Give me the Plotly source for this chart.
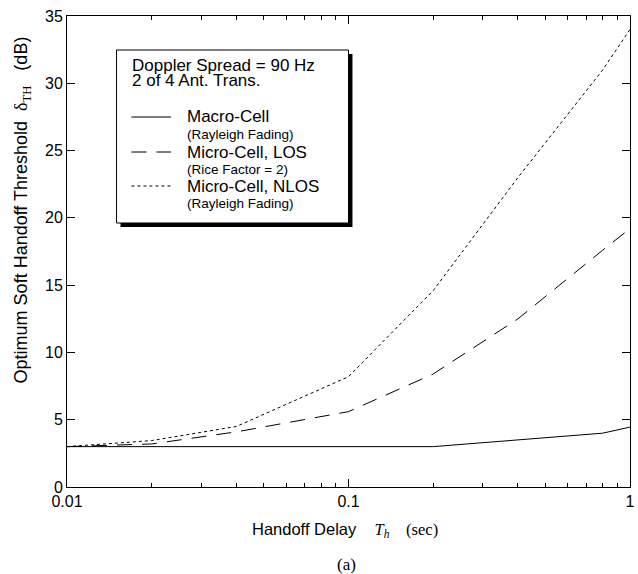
import plotly.graph_objects as go

# ---- data ----
delay = [0.01, 0.02, 0.04, 0.1, 0.2, 0.4, 0.8, 1.0]
macro = [3.0, 3.0, 3.0, 3.0, 3.0, 3.5, 4.0, 4.45]
micro_los = [3.0, 3.2, 4.1, 5.6, 8.4, 12.5, 17.6, 19.2]
micro_nlos = [3.0, 3.45, 4.5, 8.2, 14.6, 23.0, 31.0, 34.0]

x_ticks = [0.01, 0.1, 1]
x_ticktext = ["0.01", "0.1", "1"]
x_minor = [0.02, 0.03, 0.04, 0.05, 0.06, 0.07, 0.08, 0.09,
           0.2, 0.3, 0.4, 0.5, 0.6, 0.7, 0.8, 0.9]
y_ticks = [0, 5, 10, 15, 20, 25, 30, 35]

W, H = 638, 574
L, R, T, B = 67, 635, 16, 487  # plot area in pixels


def px(xp):
    return (xp - L) / (R - L)


def py(yp):
    return (B - yp) / (B - T)


SANS = "Liberation Sans, Arial, sans-serif"
SERIF = "Liberation Serif, Times New Roman, serif"

fig = go.Figure()
fig.add_trace(go.Scatter(x=delay, y=macro, mode="lines", name="Macro-Cell",
                         line=dict(color="black", width=1, dash="solid")))
fig.add_trace(go.Scatter(x=delay, y=micro_los, mode="lines", name="Micro-Cell, LOS",
                         line=dict(color="black", width=1, dash="15px,10px")))
fig.add_trace(go.Scatter(x=delay, y=micro_nlos, mode="lines", name="Micro-Cell, NLOS",
                         line=dict(color="black", width=1, dash="3px,3px")))

fig.update_layout(
    width=W, height=H,
    margin=dict(l=L, r=W - R, t=T, b=H - B),
    paper_bgcolor="white", plot_bgcolor="white",
    showlegend=False,
    font=dict(family=SANS, size=16, color="black"),
)
fig.update_xaxes(
    type="log", range=[-2, 0],
    tickmode="array", tickvals=x_ticks, ticktext=x_ticktext,
    ticks="inside", ticklen=8, tickwidth=1, tickcolor="black",
    ticklabeloverflow="allow",
    minor=dict(tickmode="array", tickvals=x_minor, ticks="inside",
               ticklen=4, tickwidth=1, tickcolor="black", showgrid=False),
    showline=True, linecolor="black", linewidth=1, mirror="allticks",
    showgrid=False, zeroline=False,
    tickfont=dict(family=SANS, size=16, color="black"),
)
fig.update_yaxes(
    range=[0, 35], tickmode="array", tickvals=y_ticks,
    ticks="inside", ticklen=8, tickwidth=1, tickcolor="black",
    ticklabeloverflow="allow",
    showline=True, linecolor="black", linewidth=1, mirror="allticks",
    showgrid=False, zeroline=False,
    tickfont=dict(family=SANS, size=16, color="black"),
)

ann = []
# axis titles
ann.append(dict(
    text="Handoff Delay    <span style='font-family:Liberation Serif'><i>T<sub>h</sub></i>    (sec)</span>",
    x=px(347), y=py(530), xref="paper", yref="paper", showarrow=False,
    xanchor="center", yanchor="middle", font=dict(family=SANS, size=16.5)))
ann.append(dict(
    text="Optimum Soft Handoff Threshold  <span style='font-family:Liberation Serif'>δ<sub>TH</sub></span>   (dB)",
    x=px(22), y=py(210), xref="paper", yref="paper", showarrow=False,
    textangle=-90, xanchor="center", yanchor="middle",
    font=dict(family=SANS, size=18)))
ann.append(dict(
    text="(a)", x=px(349), y=py(564), xref="paper", yref="paper", showarrow=False,
    xanchor="center", yanchor="middle", font=dict(family=SERIF, size=17)))

# legend box with drop shadow
shapes = []
shapes.append(dict(type="rect", xref="paper", yref="paper",
                   x0=px(121), x1=px(355), y0=py(227), y1=py(54),
                   fillcolor="black", line=dict(width=0)))
shapes.append(dict(type="rect", xref="paper", yref="paper",
                   x0=px(117), x1=px(351), y0=py(223), y1=py(50),
                   fillcolor="white", line=dict(color="black", width=1)))

for txt, yy in [("Doppler Spread = 90 Hz", 66), ("2 of 4 Ant. Trans.", 81)]:
    ann.append(dict(text=txt, x=px(131), y=py(yy), xref="paper", yref="paper",
                    showarrow=False, xanchor="left", yanchor="middle", align="left",
                    font=dict(family=SANS, size=17)))

items = [
    ("Macro-Cell", "(Rayleigh Fading)", "solid", 117),
    ("Micro-Cell, LOS", "(Rice Factor = 2)", "15px,10px", 152),
    ("Micro-Cell, NLOS", "(Rayleigh Fading)", "3px,3px", 186),
]
for name, sub, dash, yy in items:
    shapes.append(dict(type="line", xref="paper", yref="paper",
                       x0=px(132), x1=px(172), y0=py(yy), y1=py(yy),
                       line=dict(color="black", width=1, dash=dash)))
    ann.append(dict(text=name, x=px(186), y=py(yy), xref="paper", yref="paper",
                    showarrow=False, xanchor="left", yanchor="middle",
                    font=dict(family=SANS, size=17)))
    ann.append(dict(text=sub, x=px(186), y=py(yy + 17), xref="paper", yref="paper",
                    showarrow=False, xanchor="left", yanchor="middle",
                    font=dict(family=SANS, size=13.5)))

fig.update_layout(annotations=ann, shapes=shapes)
# remove the browser's default page margin so the figure sits at the page origin
fig.write_html("out.html",
               config={"displayModeBar": False},
               post_script="document.body.style.margin='0';document.body.style.padding='0';")
